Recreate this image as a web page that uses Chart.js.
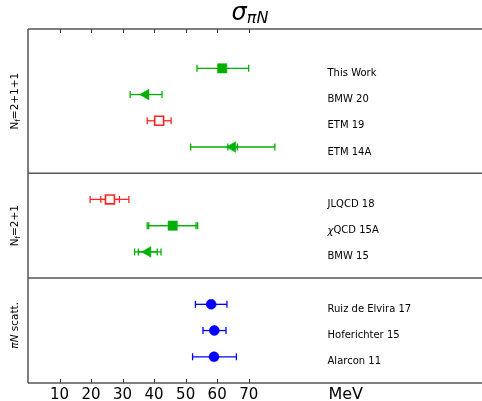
<!DOCTYPE html>
<html>
<head>
<meta charset="utf-8">
<script src="https://cdn.jsdelivr.net/npm/chart.js@4/dist/chart.umd.min.js"></script>
<style>
  html, body { margin: 0; padding: 0; background: #fff; overflow: hidden; }
  canvas { display: block; }
</style>
</head>
<body>
<canvas id="sigmaChart" width="482" height="401"></canvas>
<script>
// sigma_piN results, top to bottom
const names = ['This Work', 'BMW 20', 'ETM 19', 'ETM 14A', 'JLQCD 18', 'χQCD 15A', 'BMW 15',
  'Ruiz de Elvira 17', 'Hoferichter 15', 'Alarcon 11'];
const rows = [1.5, 2.5, 3.5, 4.5, 6.5, 7.5, 8.5, 10.5, 11.5, 12.5];
const centers = [61.6, 37.4, 41.6, 64.9, 26.0, 45.9, 38.0, 58.1, 59.1, 59.0];
// total error range
const totalLo = [53.6, 32.4, 37.8, 51.6, 19.7, 37.8, 33.8, 53.1, 55.5, 52.2];
const totalHi = [70.0, 42.5, 45.4, 78.3, 32.0, 53.8, 42.2, 63.1, 62.8, 66.1];
// statistical error range (null = not shown)
const statLo = [null, null, null, 63.4, 23.1, 38.3, 35.0, null, null, null];
const statHi = [null, null, null, 66.4, 29.0, 53.3, 41.0, null, null, null];

// groups
const groupNames = ['Nf=2+1+1', 'Nf=2+1', 'πN scatt.'];
const groupMid = [2.75, 7.5, 11.3];
const groupEdges = [5.5, 9.5];
const xTicks = [10, 20, 30, 40, 50, 60, 70];

// marker kind per result
const kinds = ['sq', 'tri', 'open', 'tri', 'open', 'sq', 'tri', 'dot', 'dot', 'dot'];

const GREEN = '#00b000', RED = '#ff2424', BLUE = '#0000ff';
const kindStyle = {
  sq:   { color: GREEN, pointStyle: 'rect', radius: 6.6, fill: GREEN, rot: 0 },
  tri:  { color: GREEN, pointStyle: 'triangle', radius: 6.2, fill: GREEN, rot: -90 },
  open: { color: RED, pointStyle: 'rect', radius: 6.3, fill: '#ffffff', rot: 0 },
  dot:  { color: BLUE, pointStyle: 'circle', radius: 5, fill: BLUE, rot: 0 }
};

function errBar(lo, hi, y, color) {
  return {
    type: 'line',
    data: [{ x: lo, y: y }, { x: hi, y: y }],
    showLine: true,
    borderColor: color,
    borderWidth: 1.3,
    pointStyle: 'line',
    pointRotation: 90,
    pointRadius: 3.5,
    pointBorderColor: color,
    pointBorderWidth: 1.3,
    order: 2
  };
}

const datasets = [];
names.forEach((n, i) => {
  const st = kindStyle[kinds[i]];
  datasets.push(errBar(totalLo[i], totalHi[i], rows[i], st.color));
  if (statLo[i] !== null) datasets.push(errBar(statLo[i], statHi[i], rows[i], st.color));
  datasets.push({
    label: n,
    data: [{ x: centers[i], y: rows[i] }],
    pointStyle: st.pointStyle,
    pointRotation: st.rot,
    pointRadius: st.radius,
    pointBackgroundColor: st.fill,
    pointBorderColor: st.color,
    pointBorderWidth: kinds[i] === 'open' ? 1.6 : 0.5,
    order: 1
  });
});

const FONT = '"DejaVu Sans", sans-serif';

const framePlugin = {
  id: 'frame',
  beforeDatasetsDraw(chart) {
    const { ctx, chartArea: a, scales: { x, y } } = chart;
    ctx.save();
    ctx.strokeStyle = '#555555';
    ctx.lineWidth = 1.5;
    ctx.beginPath();
    ctx.moveTo(a.left, a.top); ctx.lineTo(a.right, a.top);
    ctx.moveTo(a.left, a.bottom); ctx.lineTo(a.right, a.bottom);
    ctx.moveTo(a.left, a.top); ctx.lineTo(a.left, a.bottom);
    groupEdges.forEach(v => {
      const py = y.getPixelForValue(v);
      ctx.moveTo(a.left, py); ctx.lineTo(a.right, py);
    });
    ctx.stroke();
    // inward ticks
    ctx.lineWidth = 1;
    ctx.strokeStyle = '#333333';
    ctx.beginPath();
    xTicks.forEach(t => {
      const px = Math.round(x.getPixelForValue(t)) + 0.5;
      ctx.moveTo(px, a.top); ctx.lineTo(px, a.top + 4);
      ctx.moveTo(px, a.bottom); ctx.lineTo(px, a.bottom - 4);
    });
    ctx.stroke();
    ctx.restore();
  },
  afterDraw(chart) {
    const { ctx, scales: { x, y } } = chart;
    ctx.save();
    ctx.fillStyle = '#000';
    // tick labels
    ctx.font = '15px ' + FONT;
    ctx.textAlign = 'center';
    ctx.textBaseline = 'alphabetic';
    xTicks.forEach(t => ctx.fillText(String(t), x.getPixelForValue(t), 399));
    ctx.font = '16px ' + FONT;
    ctx.textAlign = 'left';
    ctx.fillText('MeV', x.getPixelForValue(95.3), 399);

    // result labels
    ctx.font = '10px ' + FONT;
    ctx.textBaseline = 'middle';
    names.forEach((n, i) => {
      const py = y.getPixelForValue(rows[i]) + 5;
      const px = x.getPixelForValue(95);
      if (n.startsWith('χ')) {
        ctx.font = 'italic 10px ' + FONT;
        ctx.fillText('χ', px, py + 1);
        const w = ctx.measureText('χ').width;
        ctx.font = '10px ' + FONT;
        ctx.fillText(n.slice(1), px + w, py);
      } else {
        ctx.fillText(n, px, py);
      }
    });

    // group labels (rotated)
    groupNames.forEach((g, i) => {
      const py = y.getPixelForValue(groupMid[i]);
      ctx.save();
      ctx.translate(15, py);
      ctx.rotate(-Math.PI / 2);
      ctx.textBaseline = 'middle';
      ctx.textAlign = 'left';
      if (g.startsWith('Nf')) {
        const rest = g.slice(2);
        ctx.font = '10.5px ' + FONT;
        const wN = ctx.measureText('N').width;
        const wR = ctx.measureText(rest).width;
        ctx.font = '7px ' + FONT;
        const wf = ctx.measureText('f').width;
        const sx = -(wN + wf + wR) / 2;
        ctx.font = '10.5px ' + FONT;
        ctx.fillText('N', sx, 0);
        ctx.font = '7px ' + FONT;
        ctx.fillText('f', sx + wN, 3);
        ctx.font = '10.5px ' + FONT;
        ctx.fillText(rest, sx + wN + wf, 0);
      } else {
        ctx.font = 'italic 10.5px ' + FONT;
        const w1 = ctx.measureText('πN').width;
        ctx.font = '10.5px ' + FONT;
        const w2 = ctx.measureText(' scatt.').width;
        const sx = -(w1 + w2) / 2;
        ctx.font = 'italic 10.5px ' + FONT;
        ctx.fillText('πN', sx, 0);
        ctx.font = '10.5px ' + FONT;
        ctx.fillText(' scatt.', sx + w1, 0);
      }
      ctx.restore();
    });

    // title sigma_piN
    ctx.textBaseline = 'alphabetic';
    ctx.textAlign = 'left';
    ctx.font = 'italic 24px ' + FONT;
    const ws = ctx.measureText('σ').width;
    ctx.font = 'italic 16px ' + FONT;
    const wsub = ctx.measureText('πN').width;
    const tx = 250 - (ws + wsub) / 2;
    ctx.font = 'italic 24px ' + FONT;
    ctx.fillText('σ', tx, 20);
    ctx.font = 'italic 16px ' + FONT;
    ctx.fillText('πN', tx + ws, 23);
    ctx.restore();
  }
};

new Chart(document.getElementById('sigmaChart'), {
  type: 'scatter',
  data: { datasets: datasets },
  options: {
    responsive: false,
    animation: false,
    events: [],
    layout: { autoPadding: false, padding: { left: 28, top: 29, right: 0, bottom: 18 } },
    plugins: { legend: { display: false }, tooltip: { enabled: false } },
    scales: {
      x: { type: 'linear', min: 0, max: 144, display: false },
      y: { type: 'linear', min: 0, max: 13.5, reverse: true, display: false }
    }
  },
  plugins: [framePlugin]
});
</script>
</body>
</html>
